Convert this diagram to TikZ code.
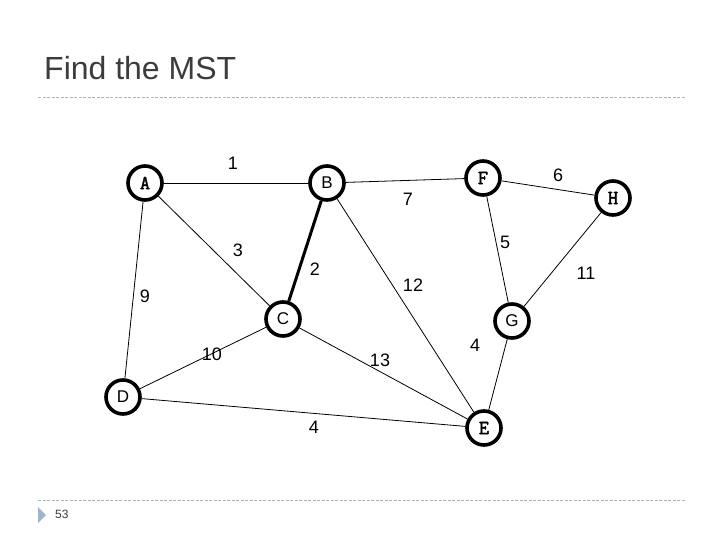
\documentclass[tikz,border=0pt]{standalone}
\usepackage{fontspec}
\setmainfont{Liberation Sans}
\newfontfamily\courfont[FakeBold=2]{Latin Modern Mono}
\usetikzlibrary{positioning, shapes.geometric}

\definecolor{rulegray}{RGB}{170,178,188}
\definecolor{bulletblue}{RGB}{160,180,204}
\definecolor{titlegray}{RGB}{60,60,60}

\begin{document}
\begin{tikzpicture}[
    x=1pt, y=-1pt,
    vertex/.style={circle, draw, line width=3.6pt, minimum size=34pt, inner sep=0pt, font=\fontsize{17}{17}\selectfont},
    cvertex/.style={vertex, font=\fontsize{20}{20}\selectfont\courfont},
    edge/.style={line width=0.8pt},
    mstedge/.style={line width=3pt},
    weight/.style={font=\fontsize{18}{18}\selectfont, inner sep=0pt},
    rule/.style={rulegray, dash pattern=on 3pt off 1.5pt, line width=0.8pt}
]
    \useasboundingbox (0,0) rectangle (720,540);

    % Title and rules
    \node[anchor=west, font=\fontsize{32}{32}\selectfont, text=titlegray, inner sep=0pt] (title) at (44,68) {Find the MST};
    \draw[rule] (38,97) -- (685,97);
    \draw[rule] (38,500) -- (685,500);

    % Footer
    \fill[bulletblue] (38,507) -- (46,515) -- (38,523) -- cycle;
    \node[anchor=west, font=\fontsize{12}{12}\selectfont, text=titlegray, inner sep=0pt] (page) at (55,514) {53};

    % Vertices
    \node[cvertex] (A) at (145,183) {A};
    \node[vertex]  (B) at (327,183) {B};
    \node[cvertex] (F) at (483,178) {F};
    \node[cvertex] (H) at (613,198) {H};
    \node[vertex]  (C) at (283,319) {C};
    \node[vertex]  (G) at (512,321) {G};
    \node[vertex]  (D) at (123,397) {D};
    \node[cvertex] (E) at (484,428) {E};

    % Edges
    \draw[edge] (A) -- (B);
    \draw[edge] (B) -- (F);
    \draw[edge] (F) -- (H);
    \draw[edge] (A) -- (C);
    \draw[mstedge] (B) -- (C);
    \draw[edge] (B) -- (E);
    \draw[edge] (F) -- (G);
    \draw[edge] (H) -- (G);
    \draw[edge] (A) -- (D);
    \draw[edge] (C) -- (D);
    \draw[edge] (C) -- (E);
    \draw[edge] (G) -- (E);
    \draw[edge] (D) -- (E);

    % Weights
    \node[weight] (wAB) at (233,163) {1};
    \node[weight] (wBF) at (408,199) {7};
    \node[weight] (wFH) at (558,175) {6};
    \node[weight] (wAC) at (238,250) {3};
    \node[weight] (wBC) at (315,269) {2};
    \node[weight] (wFG) at (505,242) {5};
    \node[weight] (wBE) at (413,285) {12};
    \node[weight] (wHG) at (586,273) {11};
    \node[weight] (wAD) at (145,296) {9};
    \node[weight] (wCD) at (212,354) {10};
    \node[weight] (wCE) at (380,360) {13};
    \node[weight] (wGE) at (475,345) {4};
    \node[weight] (wDE) at (314,427) {4};
\end{tikzpicture}
\end{document}
